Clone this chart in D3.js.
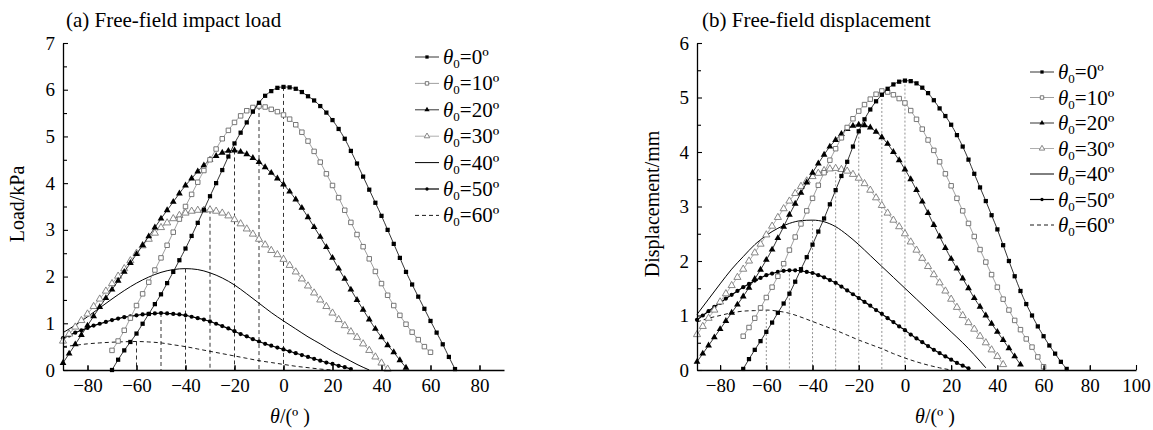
<!DOCTYPE html>
<html>
<head>
<meta charset="utf-8">
<script src="https://cdn.jsdelivr.net/npm/d3@7"></script>
<style>
body{margin:0;background:#fff;}
text{font-family:"Liberation Serif","Times New Roman",serif;fill:#000;}
</style>
</head>
<body>
<div id="chart"></div>
<script>
//-------Data
var theta0Labels = ["0", "10", "20", "30", "40", "50", "60"];

// (a) free-field impact load, kPa
var loadStart = [-70, -70, -90, -90, -90, -90, -90];
var loadStep = [2.5, 2.5, 2.5, 2.5, 5, 2.5, 5];
var loadT0 = [0.00,0.22,0.42,0.60,0.78,0.99,1.20,1.41,1.62,1.86,2.10,2.35,2.60,2.87,3.15,3.43,3.72,4.00,4.28,4.57,4.85,5.08,5.30,5.53,5.72,5.87,5.97,6.04,6.06,6.05,6.02,5.95,5.86,5.77,5.65,5.51,5.35,5.16,4.95,4.69,4.42,4.14,3.86,3.58,3.30,3.00,2.70,2.40,2.10,1.83,1.57,1.31,1.05,0.80,0.55,0.28,0.02];
var loadT10 = [0.42,0.62,0.85,1.11,1.38,1.63,1.88,2.14,2.40,2.67,2.95,3.23,3.50,3.76,4.02,4.27,4.50,4.73,4.95,5.13,5.30,5.44,5.55,5.62,5.65,5.63,5.58,5.53,5.46,5.37,5.25,5.09,4.90,4.68,4.45,4.20,3.95,3.69,3.42,3.16,2.90,2.64,2.38,2.11,1.85,1.60,1.38,1.17,0.98,0.81,0.65,0.50,0.38];
var loadT20 = [0.15,0.35,0.55,0.75,0.95,1.15,1.35,1.54,1.72,1.91,2.10,2.29,2.48,2.67,2.86,3.05,3.24,3.42,3.60,3.78,3.95,4.10,4.25,4.38,4.50,4.58,4.65,4.69,4.70,4.67,4.62,4.54,4.45,4.34,4.22,4.10,3.97,3.82,3.65,3.47,3.27,3.06,2.85,2.63,2.40,2.17,1.95,1.72,1.50,1.29,1.08,0.88,0.70,0.53,0.38,0.21,0.05];
var loadT30 = [0.62,0.77,0.92,1.06,1.20,1.36,1.52,1.69,1.85,2.01,2.17,2.34,2.50,2.66,2.80,2.93,3.05,3.15,3.24,3.31,3.36,3.40,3.42,3.42,3.43,3.40,3.36,3.30,3.22,3.13,3.02,2.91,2.80,2.68,2.56,2.47,2.37,2.24,2.10,1.95,1.80,1.65,1.50,1.36,1.22,1.08,0.95,0.82,0.70,0.56,0.42,0.28,0.15,0.02];
var loadT40 = [0.80,0.96,1.14,1.33,1.52,1.70,1.86,1.99,2.09,2.15,2.17,2.15,2.08,1.97,1.82,1.63,1.43,1.23,1.05,0.88,0.71,0.56,0.40,0.26,0.12,0.00];
var loadT50 = [0.68,0.74,0.80,0.85,0.90,0.95,0.99,1.03,1.07,1.10,1.13,1.15,1.17,1.19,1.20,1.21,1.22,1.21,1.20,1.19,1.17,1.14,1.11,1.08,1.04,0.99,0.94,0.89,0.83,0.77,0.72,0.66,0.61,0.56,0.52,0.48,0.44,0.40,0.36,0.32,0.28,0.24,0.20,0.16,0.13,0.09,0.06,0.02];
var loadT60 = [0.50,0.53,0.56,0.58,0.595,0.605,0.61,0.60,0.58,0.54,0.50,0.45,0.40,0.35,0.30,0.25,0.20,0.16,0.12,0.08,0.05,0.02,0.00];

// (b) free-field displacement, mm
var dispStart = [-70, -70, -90, -90, -90, -90, -90];
var dispStep = [2.5, 2.5, 2.5, 2.5, 5, 2.5, 5];
var dispT0 = [0.02,0.20,0.37,0.53,0.70,0.87,1.05,1.22,1.40,1.62,1.85,2.07,2.30,2.54,2.78,3.04,3.30,3.56,3.82,4.10,4.38,4.60,4.78,4.93,5.05,5.16,5.24,5.29,5.31,5.30,5.26,5.18,5.08,4.95,4.80,4.66,4.50,4.31,4.10,3.86,3.60,3.35,3.10,2.84,2.58,2.29,2.00,1.72,1.45,1.21,1.00,0.80,0.62,0.45,0.30,0.15,0.02];
var dispT10 = [0.62,0.78,0.95,1.14,1.33,1.52,1.72,1.95,2.20,2.44,2.68,2.92,3.15,3.39,3.62,3.85,4.06,4.26,4.45,4.61,4.75,4.87,4.97,5.06,5.12,5.10,5.05,4.98,4.90,4.76,4.60,4.42,4.22,4.03,3.82,3.60,3.38,3.15,2.92,2.69,2.45,2.21,1.98,1.75,1.52,1.30,1.10,0.91,0.74,0.57,0.42,0.24,0.06];
var dispT20 = [0.15,0.30,0.45,0.60,0.75,0.90,1.05,1.20,1.35,1.51,1.67,1.84,2.02,2.21,2.42,2.63,2.85,3.05,3.25,3.44,3.62,3.79,3.95,4.10,4.22,4.33,4.42,4.48,4.50,4.49,4.45,4.37,4.27,4.15,4.00,3.85,3.68,3.50,3.30,3.09,2.88,2.66,2.45,2.24,2.04,1.86,1.68,1.50,1.32,1.16,1.00,0.85,0.70,0.55,0.40,0.25,0.10];
var dispT30 = [0.65,0.80,0.95,1.10,1.25,1.40,1.55,1.70,1.85,2.00,2.15,2.31,2.48,2.64,2.80,2.96,3.10,3.24,3.37,3.47,3.55,3.61,3.66,3.69,3.70,3.68,3.65,3.59,3.52,3.42,3.30,3.16,3.02,2.88,2.75,2.63,2.50,2.35,2.20,2.05,1.90,1.75,1.60,1.45,1.30,1.15,1.00,0.87,0.75,0.62,0.50,0.37,0.25,0.10];
var dispT40 = [1.02,1.30,1.58,1.85,2.08,2.30,2.47,2.60,2.69,2.74,2.75,2.72,2.63,2.48,2.30,2.10,1.90,1.70,1.50,1.30,1.10,0.90,0.70,0.50,0.28,0.04];
var dispT50 = [0.92,1.00,1.08,1.16,1.23,1.31,1.38,1.45,1.52,1.58,1.64,1.69,1.74,1.77,1.80,1.82,1.83,1.83,1.82,1.80,1.78,1.74,1.70,1.65,1.60,1.53,1.46,1.39,1.32,1.25,1.18,1.10,1.03,0.95,0.88,0.80,0.73,0.65,0.58,0.51,0.44,0.37,0.31,0.25,0.19,0.13,0.08,0.03];
var dispT60 = [0.88,0.95,1.00,1.05,1.08,1.09,1.10,1.08,1.04,0.97,0.89,0.81,0.73,0.64,0.55,0.47,0.39,0.30,0.22,0.15,0.09,0.04,0.00];

// axis ticks
var loadTicksX = [-80, -60, -40, -20, 0, 20, 40, 60, 80];
var loadTicksY = [0, 1, 2, 3, 4, 5, 6, 7];
var dispTicksX = [-80, -60, -40, -20, 0, 20, 40, 60, 80, 100];
var dispTicksY = [0, 1, 2, 3, 4, 5, 6];

//-------Styles for the seven theta0 series
var markStyle = [
	{sym: d3.symbolSquare, size: 18, fill: "#000", stroke: "none", line: "#000", dash: null, w: 0.8},
	{sym: d3.symbolSquare, size: 20, fill: "#fff", stroke: "#6a6a6a", line: "#888", dash: null, w: 0.8},
	{sym: d3.symbolTriangle, size: 20, fill: "#000", stroke: "none", line: "#000", dash: null, w: 0.8},
	{sym: d3.symbolTriangle, size: 22, fill: "#fff", stroke: "#7a7a7a", line: "#999", dash: null, w: 0.8},
	{sym: null, line: "#000", dash: null, w: 1},
	{sym: d3.symbolCircle, size: 14, fill: "#000", stroke: "none", line: "#000", dash: null, w: 1.2},
	{sym: null, line: "#000", dash: "4,3", w: 0.9}
];

var FONT = "'Liberation Serif','Times New Roman',serif";
var W = 1153, H = 430;
var svg = d3.select("#chart").append("svg")
	.attr("width", W)
	.attr("height", H);

function buildSeries(values, starts, steps){
	var out = [];
	for(var i = 0; i < values.length; i++){
		var pts = values[i].map(function(v, j){ return {a: starts[i] + j*steps[i], v: v}; });
		out.push(pts);
	}
	return out;
}

function styleTicks(ax){
	ax.attr("font-family", FONT).attr("font-size", 19);
	ax.selectAll("text").attr("fill", "#000");
}

function drawPanel(cfg){
	var x = d3.scaleLinear().domain(cfg.xDomain).range([cfg.left, cfg.right]);
	var y = d3.scaleLinear().domain(cfg.yDomain).range([cfg.bottom, cfg.top]);
	var g = svg.append("g");

	//drop lines from every peak down to the axis
	cfg.series.forEach(function(pts){
		var k = d3.maxIndex(pts, function(d){ return d.v; });
		g.append("line")
			.attr("x1", x(pts[k].a)).attr("x2", x(pts[k].a))
			.attr("y1", y(pts[k].v)).attr("y2", y(0))
			.attr("stroke", cfg.dropColor)
			.attr("stroke-width", 0.8)
			.attr("stroke-dasharray", cfg.dropDash);
	});

	var line = d3.line()
		.x(function(d){ return x(d.a); })
		.y(function(d){ return y(d.v); })
		.curve(d3.curveMonotoneX);

	//draw from 60 down to 0 so the 0 curve sits on top
	for(var i = cfg.series.length - 1; i >= 0; i--){
		var st = markStyle[i];
		var pts = cfg.series[i];
		g.append("path")
			.attr("d", line(pts))
			.attr("fill", "none")
			.attr("stroke", st.line)
			.attr("stroke-width", st.w)
			.attr("stroke-dasharray", st.dash);
		if(st.sym){
			var sym = d3.symbol().type(st.sym).size(st.size);
			g.append("g").selectAll("path")
				.data(pts)
				.join("path")
				.attr("d", sym)
				.attr("transform", function(d){ return "translate(" + x(d.a) + "," + y(d.v) + ")"; })
				.attr("fill", st.fill)
				.attr("stroke", st.stroke)
				.attr("stroke-width", 0.9);
		}
	}

	//axes, ticks pointing inwards
	g.append("g").attr("transform", "translate(0," + cfg.bottom + ")")
		.call(d3.axisBottom(x).tickValues(cfg.xTicks).tickSize(-5).tickSizeOuter(0).tickPadding(9))
		.call(styleTicks);
	g.append("g").attr("transform", "translate(0," + cfg.bottom + ")")
		.call(d3.axisBottom(x).tickValues(d3.range(cfg.xDomain[0] + 10, cfg.xDomain[1], 20)).tickSize(-4).tickFormat(""))
		.select(".domain").remove();
	g.append("g").attr("transform", "translate(" + cfg.left + ",0)")
		.call(d3.axisLeft(y).tickValues(cfg.yTicks).tickFormat(d3.format("d")).tickSize(-5).tickSizeOuter(0).tickPadding(8))
		.call(styleTicks);
	g.append("g").attr("transform", "translate(" + cfg.left + ",0)")
		.call(d3.axisLeft(y).tickValues(d3.range(cfg.yDomain[0] + 0.5, cfg.yDomain[1], 1)).tickSize(-4).tickFormat(""))
		.select(".domain").remove();
	g.selectAll(".domain").attr("stroke-width", 1.3);
	g.selectAll(".tick line").attr("stroke-width", 1.1);

	//title and axis labels
	g.append("text")
		.attr("x", cfg.titleX).attr("y", 27)
		.style("font-size", "21px")
		.text(cfg.title);
	g.append("text")
		.attr("transform", "translate(" + cfg.ylabelX + ",204) rotate(-90)")
		.attr("text-anchor", "middle")
		.style("font-size", "20px")
		.text(cfg.ylabel);
	var xl = g.append("text")
		.attr("x", cfg.xlabelX).attr("y", 423)
		.attr("text-anchor", "middle")
		.style("font-size", "20px");
	xl.append("tspan").style("font-style", "italic").text("θ");
	xl.append("tspan").text("/(º )");

	//legend
	theta0Labels.forEach(function(lab, i){
		var st = markStyle[i];
		var row = g.append("g").attr("transform", "translate(" + cfg.legendX + "," + (cfg.legendY + i*cfg.legendStep) + ")");
		row.append("line")
			.attr("x1", 0).attr("x2", 24)
			.attr("stroke", st.line)
			.attr("stroke-width", st.w)
			.attr("stroke-dasharray", st.dash);
		if(st.sym){
			row.append("path")
				.attr("d", d3.symbol().type(st.sym).size(st.size * 0.6)())
				.attr("transform", "translate(12,0)")
				.attr("fill", st.fill)
				.attr("stroke", st.stroke)
				.attr("stroke-width", 0.9);
		}
		var t = row.append("text")
			.attr("x", 28).attr("y", 7)
			.style("font-size", "21px");
		t.append("tspan").style("font-style", "italic").text("θ");
		t.append("tspan").attr("dy", 4).style("font-size", "13px").text("0");
		t.append("tspan").attr("dy", -4).text("=" + lab + "º");
	});
}

drawPanel({
	series: buildSeries([loadT0, loadT10, loadT20, loadT30, loadT40, loadT50, loadT60], loadStart, loadStep),
	xDomain: [-90, 90], yDomain: [0, 7],
	left: 63, right: 504, top: 43, bottom: 370,
	xTicks: loadTicksX, yTicks: loadTicksY,
	title: "(a) Free-field impact load", titleX: 66,
	ylabel: "Load/kPa", ylabelX: 24,
	xlabelX: 290,
	legendX: 415, legendY: 57, legendStep: 26.4,
	dropColor: "#000", dropDash: "4,3"
});

drawPanel({
	series: buildSeries([dispT0, dispT10, dispT20, dispT30, dispT40, dispT50, dispT60], dispStart, dispStep),
	xDomain: [-90, 100], yDomain: [0, 6],
	left: 697, right: 1136, top: 43, bottom: 370,
	xTicks: dispTicksX, yTicks: dispTicksY,
	title: "(b) Free-field displacement", titleX: 702,
	ylabel: "Displacement/mm", ylabelX: 659,
	xlabelX: 935,
	legendX: 1030, legendY: 72, legendStep: 25.5,
	dropColor: "#777", dropDash: "2,2"
});
</script>
</body>
</html>
